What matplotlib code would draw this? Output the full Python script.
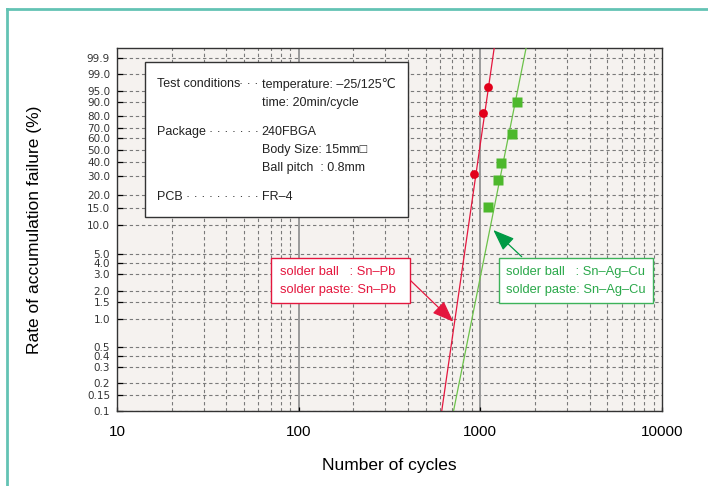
import numpy as np
import matplotlib.pyplot as plt
from matplotlib.lines import Line2D
from matplotlib.patches import Rectangle
from matplotlib.ticker import FixedLocator, NullFormatter

# ---- data ----
snpb_cycles = [919, 1030, 1106]
snpb_rate = [31.5, 82.0, 96.5]
snac_cycles = [1102, 1251, 1294, 1494, 1591]
snac_rate = [15.3, 27.8, 39.1, 64.3, 89.8]

# fitted Weibull lines (end points)
snpb_fit_cycles = [613, 1192]
snpb_fit_rate = [0.1, 99.985]
snac_fit_cycles = [712, 1786]
snac_fit_rate = [0.1, 99.985]

y_ticks = [0.1, 0.15, 0.2, 0.3, 0.4, 0.5, 1.0, 1.5, 2.0, 3.0, 4.0, 5.0, 10.0,
           15.0, 20.0, 30.0, 40.0, 50.0, 60.0, 70.0, 80.0, 90.0, 95.0, 99.0, 99.9]
x_ticks = [10, 100, 1000, 10000]

RED = '#e4173e'
GREEN_TXT = '#2aa84a'
GREEN_SQ = '#4db82c'
GREEN_LN = '#6cc24a'

plain = ['Liberation Sans', 'DejaVu Sans']


def fwd(p):
    p = np.clip(np.asarray(p, dtype=float), 1e-9, 100 - 1e-9)
    return np.log(-np.log(1 - p / 100.0))


def inv(w):
    return 100.0 * (1 - np.exp(-np.exp(np.asarray(w, dtype=float))))


fig = plt.figure(figsize=(7.08, 4.86), dpi=100)
ax = fig.add_axes([0.1653, 0.1543, 0.7697, 0.7469])
ax.set_facecolor('#f5f2ef')
ax.set_xscale('log')
ax.set_yscale('function', functions=(fwd, inv))
ax.set_xlim(10, 10000)
ax.set_ylim(0.1, 99.985)

# grid
for t in y_ticks:
    ax.axhline(t, color='#7a7a7a', lw=0.8, ls=(0, (3, 2.5)), zorder=1)
for dec in [10, 100, 1000]:
    for m in range(2, 10):
        ax.axvline(dec * m, color='#7a7a7a', lw=0.8, ls=(0, (3, 2.5)), zorder=1)
for v in [100, 1000]:
    ax.axvline(v, color='#9a9a9a', lw=1.4, zorder=1)

# fit lines and points
ax.plot(snpb_fit_cycles, snpb_fit_rate, color=RED, lw=0.9, zorder=3)
ax.plot(snac_fit_cycles, snac_fit_rate, color=GREEN_LN, lw=0.9, zorder=3)
ax.plot(snpb_cycles, snpb_rate, 'o', color='#e2001a', ms=6.3, mec='none', zorder=4)
ax.plot(snac_cycles, snac_rate, 's', color=GREEN_SQ, ms=7.2, mec='none', zorder=4)

# ticks
ax.yaxis.set_major_locator(FixedLocator(y_ticks))
ax.set_yticklabels(['%g' % t if t in (0.1, 0.15) else '%.1f' % t for t in y_ticks],
                   family='DejaVu Sans', fontsize=7.5, color='#333333')
ax.yaxis.set_minor_formatter(NullFormatter())
ax.xaxis.set_major_locator(FixedLocator(x_ticks))
ax.set_xticklabels([str(t) for t in x_ticks], family=plain, fontsize=11)
ax.xaxis.set_minor_locator(FixedLocator([]))
ax.yaxis.set_minor_locator(FixedLocator([]))
ax.tick_params(axis='y', direction='in', length=4.5, width=0.9, pad=5, right=False)
ax.tick_params(axis='x', direction='in', length=3, width=0.9, pad=10, top=False)
for s in ax.spines.values():
    s.set_color('#333333')
    s.set_linewidth(1.0)

ax.set_xlabel('Number of cycles', family=plain, fontsize=12.5)
ax.set_ylabel('Rate of accumulation failure (%)', family=plain, fontsize=12.5)
ax.xaxis.set_label_coords(0.5, -0.129)
ax.yaxis.set_label_coords(-0.1376, 0.5)

# info box
ax.add_patch(Rectangle((0.0514, 0.5353), 0.4831, 0.427, transform=ax.transAxes,
                       facecolor='white', edgecolor='#333333', lw=1.0, zorder=5))
lx, rx, dx = 0.0739, 0.2655, 0.2595
info = [
    (0.9008, 'Test conditions', '· · ·', 'temperature: –25/125℃'),
    (0.8493, '', '', 'time: 20min/cycle'),
    (0.7694, 'Package', '· · · · · · ·', '240FBGA'),
    (0.7190, '', '', 'Body Size: 15mm□'),
    (0.6694, '', '', 'Ball pitch  : 0.8mm'),
    (0.5887, 'PCB', '· · · · · · · · · ·', 'FR–4'),
]
for yy, left, dots, right in info:
    kw = dict(transform=ax.transAxes, va='center', fontsize=9, family=plain,
              color='#222222', zorder=6)
    if left:
        ax.text(lx, yy, left, ha='left', **kw)
    if dots:
        ax.text(dx, yy, dots, ha='right', **kw)
    ax.text(rx, yy, right, ha='left', **kw)

arrow_style = '-|>,head_length=1.1,head_width=0.42'

# legend boxes with arrows
ax.add_patch(Rectangle((0.282, 0.2983), 0.2556, 0.124, transform=ax.transAxes,
                       facecolor='white', edgecolor=RED, lw=1.0, zorder=5))
ax.text(0.299, 0.3829, 'solder ball   : Sn–Pb', transform=ax.transAxes, va='center',
        fontsize=9.3, family=plain, color=RED, zorder=6)
ax.text(0.299, 0.3333, 'solder paste: Sn–Pb', transform=ax.transAxes, va='center',
        fontsize=9.3, family=plain, color=RED, zorder=6)
ax.annotate('', xy=(710, 0.93), xycoords='data', xytext=(0.5389, 0.359),
            textcoords='axes fraction',
            arrowprops=dict(arrowstyle=arrow_style, mutation_scale=12,
                            color=RED, lw=0.9, shrinkA=0, shrinkB=0), zorder=6)

ax.add_patch(Rectangle((0.7004, 0.2983), 0.2836, 0.124, transform=ax.transAxes,
                       facecolor='white', edgecolor='#3db35a', lw=1.0, zorder=5))
ax.text(0.7132, 0.3829, 'solder ball   : Sn–Ag–Cu', transform=ax.transAxes, va='center',
        fontsize=9.3, family=plain, color=GREEN_TXT, zorder=6)
ax.text(0.7132, 0.3333, 'solder paste: Sn–Ag–Cu', transform=ax.transAxes, va='center',
        fontsize=9.3, family=plain, color=GREEN_TXT, zorder=6)
ax.annotate('', xy=(1179, 8.85), xycoords='data', xytext=(0.7426, 0.4251),
            textcoords='axes fraction',
            arrowprops=dict(arrowstyle=arrow_style, mutation_scale=12,
                            color='#009a44', lw=0.9, shrinkA=0, shrinkB=0), zorder=6)

# teal frame (left and top edges)
fx = 7 / 708
fy = 1 - 9.5 / 486
fig.add_artist(Line2D([fx, fx], [0, fy], transform=fig.transFigure, color='#63c3b4', lw=2))
fig.add_artist(Line2D([fx, 1], [fy, fy], transform=fig.transFigure, color='#63c3b4', lw=2))

fig.savefig('out.png', dpi=100)
